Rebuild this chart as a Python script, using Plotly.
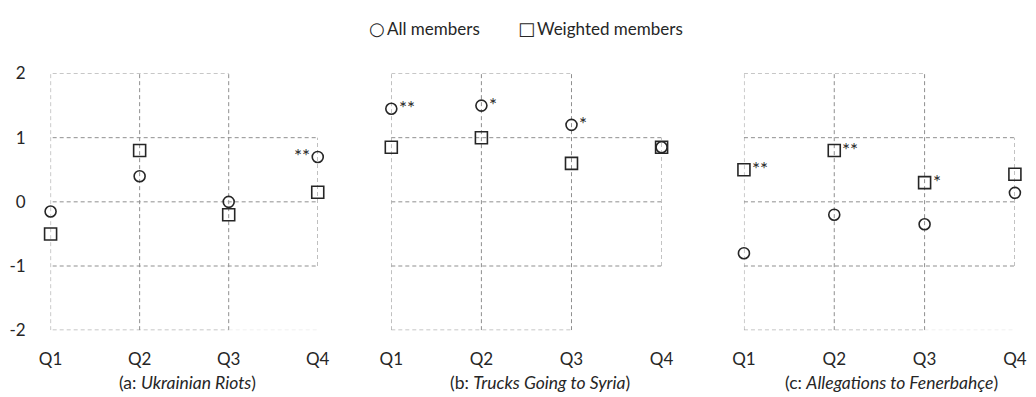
import plotly.graph_objects as go

# Quarters on the x axis
quarters = ["Q1", "Q2", "Q3", "Q4"]
y_ticks = [2, 1, 0, -1, -2]

# Panel (a): Ukrainian Riots
a_all = [-0.15, 0.4, 0.0, 0.7]
a_weighted = [-0.5, 0.8, -0.2, 0.15]
a_all_sig = ["", "", "", "**"]
a_weighted_sig = ["", "", "", ""]

# Panel (b): Trucks Going to Syria
b_all = [1.45, 1.5, 1.2, 0.85]
b_weighted = [0.85, 1.0, 0.6, 0.85]
b_all_sig = ["**", "*", "*", ""]
b_weighted_sig = ["", "", "", ""]

# Panel (c): Allegations to Fenerbahçe
c_all = [-0.8, -0.2, -0.35, 0.14]
c_weighted = [0.5, 0.8, 0.3, 0.43]
c_all_sig = ["", "", "", ""]
c_weighted_sig = ["**", "**", "*", ""]

titles = [
    "(a: <i>Ukrainian Riots</i>)",
    "(b: <i>Trucks Going to Syria</i>)",
    "(c: <i>Allegations to Fenerbahçe</i>)",
]
series_names = ["All members", "Weighted members"]
legend_glyphs = ["○", "□"]

panels = [
    (a_all, a_weighted, a_all_sig, a_weighted_sig),
    (b_all, b_weighted, b_all_sig, b_weighted_sig),
    (c_all, c_weighted, c_all_sig, c_weighted_sig),
]

W, H = 1036, 397
FONT = "Lato"
INK = "#262626"
GRID = "#8f8f8f"
DASH = "4px,3px"

x_domains = [[39.5 / W, 313 / W], [388.3 / W, 665 / W], [749.3 / W, 1026.7 / W]]
y_domain = [60 / H, 331 / H]
title_centers = [180 / W, 541 / W, 900 / W]

# Dashed grid segments drawn in data units: (y, from quarter, to quarter)
h_segments = [(2, 0, 2), (1, 0, 3), (0, 0, 3), (-1, 0, 3), (-2, 0, 2)]
# (quarter, from y, to y)
v_segments = [(0, -2, 2), (1, -2, 2), (2, -2, 2), (3, -1, 1)]

fig = go.Figure()
xq = list(range(len(quarters)))
shapes = []
annotations = []

for i, (all_v, w_v, all_sig, w_sig) in enumerate(panels):
    suffix = "" if i == 0 else str(i + 1)
    xref, yref = "x" + suffix, "y" + suffix
    # the first panel carries the value axis, whose gridlines poke out past Q1
    h_start = -0.055 if i == 0 else 0

    for y, x0, x1 in h_segments:
        shapes.append(dict(type="line", xref=xref, yref=yref,
                           x0=h_start if x0 == 0 else x0, x1=x1, y0=y, y1=y,
                           line=dict(color=GRID, width=1, dash=DASH), layer="below"))
    for x, y0, y1 in v_segments:
        shapes.append(dict(type="line", xref=xref, yref=yref, x0=x, x1=x, y0=y0, y1=y1,
                           line=dict(color=GRID, width=1, dash=DASH), layer="below"))
    if i != 1:
        shapes.append(dict(type="line", xref=xref, yref=yref, x0=2, x1=3, y0=-2, y1=-2,
                           line=dict(color="#e2e2e2", width=1, dash=DASH), layer="below"))

    fig.add_trace(go.Scatter(
        x=xq, y=all_v, mode="markers", name=series_names[0],
        xaxis=xref, yaxis=yref, showlegend=False, cliponaxis=False,
        marker=dict(symbol="circle-open", size=11, color=INK, line=dict(width=1.6, color=INK)),
    ))
    fig.add_trace(go.Scatter(
        x=xq, y=w_v, mode="markers", name=series_names[1],
        xaxis=xref, yaxis=yref, showlegend=False, cliponaxis=False,
        marker=dict(symbol="square-open", size=12, color=INK, line=dict(width=1.6, color=INK)),
    ))

    for vals, sigs in ((all_v, all_sig), (w_v, w_sig)):
        for q, (v, s) in enumerate(zip(vals, sigs)):
            if not s:
                continue
            left = q == len(quarters) - 1
            annotations.append(dict(
                x=q, y=v, xref=xref, yref=yref, text=s, showarrow=False,
                xanchor="right" if left else "left", yanchor="middle",
                xshift=-6 if left else 6, yshift=1,
                font=dict(family=FONT, size=19, color=INK),
            ))

    annotations.append(dict(
        x=title_centers[i], y=0, xref="paper", yref="paper", text=titles[i],
        showarrow=False, xanchor="center", yanchor="bottom", yshift=-8,
        font=dict(family=FONT, size=17.5, color=INK),
    ))

    fig.layout["xaxis" + suffix] = dict(
        domain=x_domains[i], range=[0, 3], tickvals=xq, ticktext=quarters,
        showgrid=False, zeroline=False, showline=False, ticks="",
        ticklabelstandoff=17, anchor=yref,
        tickfont=dict(family=FONT, size=17, color=INK),
    )
    fig.layout["yaxis" + suffix] = dict(
        domain=y_domain, range=[-2, 2], tickvals=y_ticks, ticktext=[str(t) for t in y_ticks],
        showticklabels=(i == 0), showgrid=False, zeroline=False, showline=False, ticks="",
        ticklabelstandoff=24, anchor=xref,
        tickfont=dict(family=FONT, size=17, color=INK),
    )

# Key above the panels: symbol glyph, then the series name
glyph_x = [374 / W, 527 / W]
name_x = [382 / W, 535 / W]
key_y = 1 - 19 / H
for name, glyph, gx, nx in zip(series_names, legend_glyphs, glyph_x, name_x):
    annotations.append(dict(
        x=gx, y=key_y, xref="paper", yref="paper", text=glyph,
        showarrow=False, xanchor="center", yanchor="middle",
        font=dict(family="DejaVu Sans", size=18, color=INK),
    ))
    annotations.append(dict(
        x=nx, y=key_y, xref="paper", yref="paper", text=name,
        showarrow=False, xanchor="left", yanchor="middle",
        font=dict(family=FONT, size=17, color=INK),
    ))

fig.update_layout(
    width=W, height=H,
    margin=dict(l=0, r=0, t=0, b=0),
    paper_bgcolor="white", plot_bgcolor="white",
    shapes=shapes, annotations=annotations,
    showlegend=False,
)

fig.write_html("out.html")
